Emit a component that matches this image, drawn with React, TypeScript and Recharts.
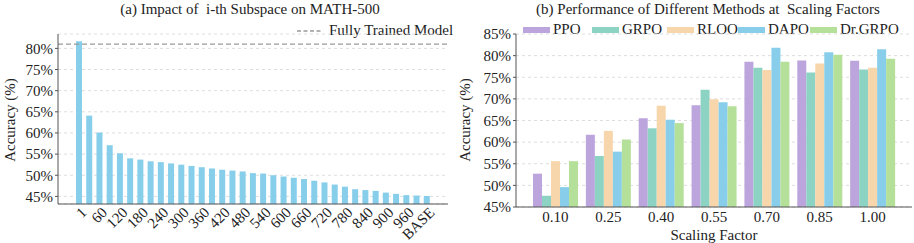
import React from 'react'
import { BarChart, Bar, XAxis, YAxis, CartesianGrid, ReferenceLine } from 'recharts'

const FONT = '"Liberation Serif", "Times New Roman", serif'

// (a) i-th subspace accuracy
const subspaceLabels = [
  '1', '30', '60', '90', '120', '150', '180', '210', '240', '270', '300', '330',
  '360', '390', '420', '450', '480', '510', '540', '570', '600', '630', '660',
  '690', '720', '750', '780', '810', '840', '870', '900', '930', '960', '990', 'BASE',
]
const subspaceAcc = [
  81.7, 64.1, 60.1, 57.1, 55.2, 54.0, 53.7, 53.3, 53.1, 52.8, 52.5, 52.2,
  51.9, 51.6, 51.3, 51.1, 50.9, 50.5, 50.4, 50.0, 49.7, 49.4, 49.1,
  48.7, 48.3, 47.8, 47.3, 46.7, 46.5, 46.3, 45.9, 45.6, 45.3, 45.2, 45.1,
]
const fullyTrained = 81.0

// (b) methods at scaling factors
const scalingFactors = ['0.10', '0.25', '0.40', '0.55', '0.70', '0.85', '1.00']
const ppo = [52.7, 61.7, 65.5, 68.5, 78.6, 78.9, 78.8]
const grpo = [47.6, 56.8, 63.2, 72.1, 77.2, 76.1, 76.8]
const rloo = [55.6, 62.6, 68.4, 69.9, 76.7, 78.2, 77.2]
const dapo = [49.6, 57.8, 65.2, 69.2, 81.8, 80.8, 81.5]
const drgrpo = [55.6, 60.6, 64.4, 68.3, 78.6, 80.2, 79.3]

const accTicks = [45, 50, 55, 60, 65, 70, 75, 80]
const accTicksB = [45, 50, 55, 60, 65, 70, 75, 80, 85]

// legend item left edges (px, right panel)
const methods = [
  { key: 'PPO', color: '#BCA4DD', at: 523 },
  { key: 'GRPO', color: '#8DD3C4', at: 592 },
  { key: 'RLOO', color: '#F8D6AB', at: 667 },
  { key: 'DAPO', color: '#88CEEA', at: 738 },
  { key: 'Dr.GRPO', color: '#B4E09A', at: 810 },
]

const leftData = subspaceLabels.map((name, i) => ({ name, acc: subspaceAcc[i] }))
const rightData = scalingFactors.map((name, i) => ({
  name,
  PPO: ppo[i],
  GRPO: grpo[i],
  RLOO: rloo[i],
  DAPO: dapo[i],
  'Dr.GRPO': drgrpo[i],
}))

const AXIS = '#555'
const tickStyle = { fontSize: 15, fill: '#222', fontFamily: FONT }

const RotTick = ({ x, y, payload }: any) => (
  <g transform={`translate(${x},${y})`}>
    <text
      x={0}
      y={0}
      dy={7}
      dx={5}
      textAnchor="end"
      transform="rotate(-45)"
      style={{ fontSize: 15, fill: '#222', fontFamily: FONT }}
    >
      {payload.value}
    </text>
  </g>
)

const pct = (v: number) => `${v}%`

export default function App() {
  return (
    <div
      style={{
        position: 'absolute',
        left: 0,
        top: 0,
        width: 914,
        height: 243,
        background: '#fff',
        fontFamily: FONT,
        color: '#222',
        overflow: 'hidden',
      }}
    >
      {/* titles */}
      <div style={{ position: 'absolute', left: 0, width: 500, top: 0, textAlign: 'center', fontSize: 15, lineHeight: '18px' }}>
        (a) Impact of&nbsp; i-th Subspace on MATH-500
      </div>
      <div style={{ position: 'absolute', left: 458, width: 500, top: 0, textAlign: 'center', fontSize: 15, lineHeight: '18px' }}>
        (b) Performance of Different Methods at&nbsp; Scaling Factors
      </div>

      {/* y labels */}
      <div style={{ position: 'absolute', left: 10, top: 120, transform: 'translate(-50%,-50%) rotate(-90deg)', fontSize: 15, whiteSpace: 'nowrap' }}>
        Accuracy (%)
      </div>
      <div style={{ position: 'absolute', left: 465, top: 120, transform: 'translate(-50%,-50%) rotate(-90deg)', fontSize: 15, whiteSpace: 'nowrap' }}>
        Accuracy (%)
      </div>

      {/* left legend */}
      <div style={{ position: 'absolute', left: 297, top: 22, display: 'flex', alignItems: 'center', fontSize: 15, whiteSpace: 'nowrap' }}>
        <svg width={24} height={4} style={{ marginRight: 8 }}>
          <line x1={0} y1={2} x2={24} y2={2} stroke="#999" strokeWidth={1.3} strokeDasharray="4 2.5" />
        </svg>
        Fully Trained Model
      </div>

      {/* right legend */}
      {methods.map((m) => (
        <div
          key={m.key}
          style={{ position: 'absolute', left: m.at, top: 21, display: 'flex', alignItems: 'center', fontSize: 15, whiteSpace: 'nowrap' }}
        >
          <div style={{ width: 27, height: 6, background: m.color, marginRight: 3 }} />
          {m.key}
        </div>
      ))}

      <div style={{ position: 'absolute', left: 0, top: 0 }}>
        <BarChart
          width={460}
          height={243}
          data={leftData}
          margin={{ top: 34, right: 12, left: 0, bottom: 0 }}
          barCategoryGap={2}
        >
          <CartesianGrid vertical={false} stroke="#ddd" strokeDasharray="3 3" />
          <XAxis
            dataKey="name"
            interval={1}
            height={39}
            tick={<RotTick />}
            tickLine={false}
            axisLine={{ stroke: AXIS }}
            padding={{ left: 16, right: 16 }}
          />
          <YAxis
            width={58}
            domain={[43.2, 83.4]}
            ticks={accTicks}
            interval={0}
            allowDataOverflow
            tickFormatter={pct}
            tick={tickStyle}
            tickSize={3}
            tickLine={{ stroke: AXIS }}
            axisLine={{ stroke: AXIS }}
          />
          <ReferenceLine y={fullyTrained} stroke="#999" strokeWidth={1.3} strokeDasharray="5 3" />
          <Bar dataKey="acc" fill="#87CEEB" isAnimationActive={false} />
        </BarChart>
      </div>

      <div style={{ position: 'absolute', left: 455, top: 0 }}>
        <BarChart
          width={459}
          height={243}
          data={rightData}
          margin={{ top: 34, right: 2, left: 0, bottom: 0 }}
          barGap={0}
          barSize={9}
        >
          <CartesianGrid vertical={false} stroke="#ddd" strokeDasharray="3 3" />
          <XAxis
            dataKey="name"
            height={36}
            tick={tickStyle}
            tickLine={false}
            tickSize={4}
            tickMargin={0}
            axisLine={{ stroke: AXIS }}
            padding={{ left: 13, right: 13 }}
            label={{ value: 'Scaling Factor', position: 'insideBottom', offset: 3, style: tickStyle }}
          />
          <YAxis
            width={61}
            domain={[45, 85]}
            ticks={accTicksB}
            interval={0}
            allowDataOverflow
            tickFormatter={pct}
            tick={tickStyle}
            tickSize={3}
            tickLine={{ stroke: AXIS }}
            axisLine={{ stroke: AXIS }}
          />
          {methods.map((m) => (
            <Bar key={m.key} dataKey={m.key} fill={m.color} isAnimationActive={false} />
          ))}
        </BarChart>
      </div>
    </div>
  )
}
